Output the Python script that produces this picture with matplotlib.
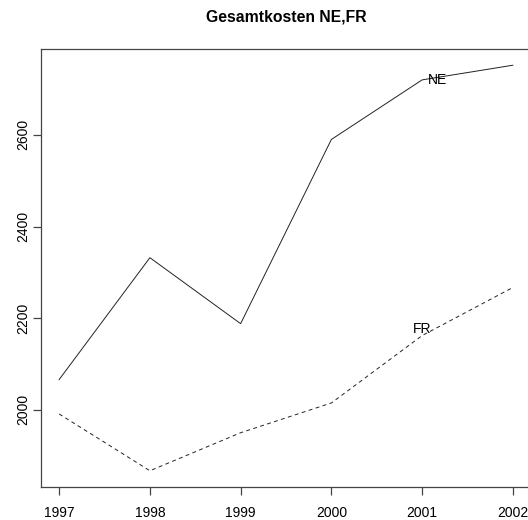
import matplotlib
matplotlib.use("Agg")
import matplotlib.pyplot as plt

years = [1997, 1998, 1999, 2000, 2001, 2002]
ne_values = [2066, 2332, 2188, 2590, 2720, 2752]
fr_values = [1991, 1867, 1950, 2015, 2162, 2267]
y_ticks = [2000, 2200, 2400, 2600]
title = "Gesamtkosten NE,FR"

plt.rcParams['font.family'] = ['Liberation Sans', 'DejaVu Sans']

W, H = 528, 520
fig = plt.figure(figsize=(W / 100, H / 100), dpi=100)
ax = fig.add_axes([41 / W, (H - 487) / H, (531 - 41) / W, (487 - 49) / H])

ax.plot(years, ne_values, color='#222222', lw=0.7)
ax.plot(years, fr_values, color='#222222', lw=0.7, dashes=(4, 3.5))

ax.text(2001.17, 2720, "NE", ha='center', va='center', fontsize=10)
ax.text(2001.0, 2177, "FR", ha='center', va='center', fontsize=10)

xmin, xmax = min(years), max(years)
xr = xmax - xmin
ax.set_xlim(xmin - 0.04 * xr, xmax + 0.04 * xr)
ymin = min(min(ne_values), min(fr_values))
ymax = max(max(ne_values), max(fr_values))
yr = ymax - ymin
ax.set_ylim(ymin - 0.04 * yr, ymax + 0.04 * yr)

ax.set_xticks(years)
ax.set_xticklabels([str(y) for y in years])
ax.set_yticks(y_ticks)
ax.set_yticklabels([str(v) for v in y_ticks], rotation=90, va='center')

for s in ax.spines.values():
    s.set_color('#444444')
    s.set_linewidth(0.9)
ax.tick_params(axis='both', length=6, width=0.9, color='#444444', labelsize=10)
ax.tick_params(axis='x', pad=7.5)
ax.tick_params(axis='y', pad=2)

fig.text(286 / W, 1 - 17 / H, title, ha='center', va='center', fontsize=11.3, fontweight='bold')

fig.savefig("out.png", dpi=100)
